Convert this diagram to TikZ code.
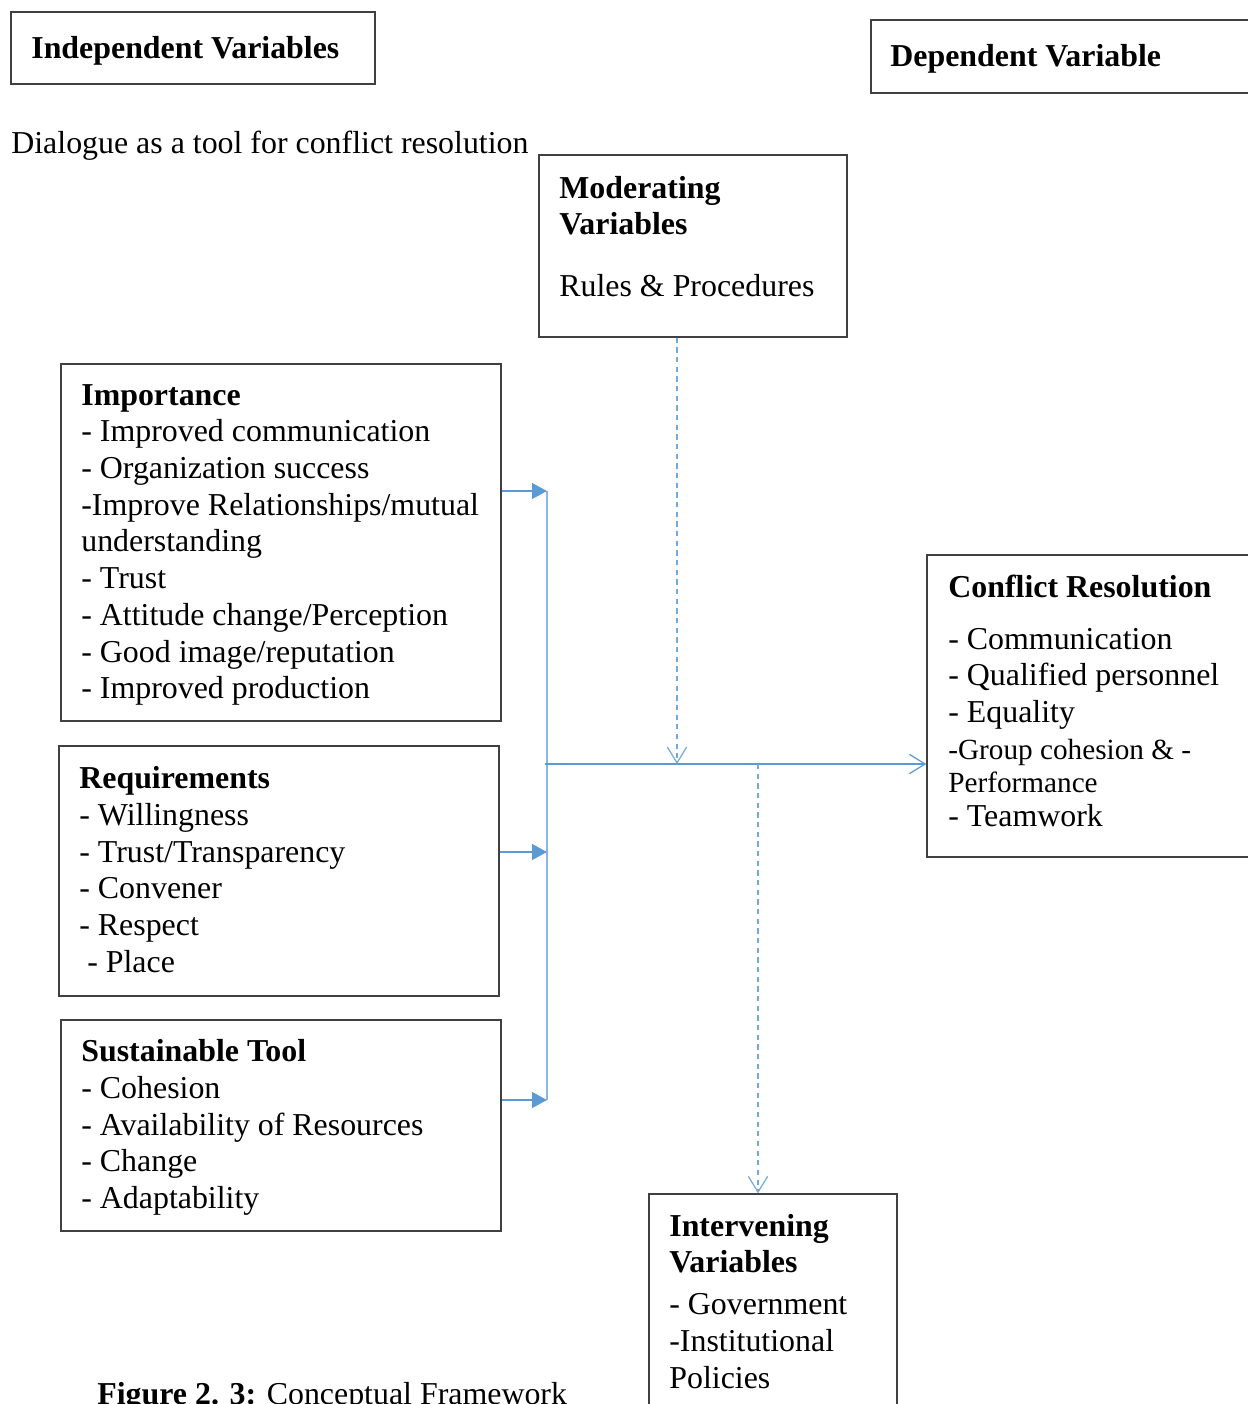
\documentclass[tikz,border=0pt]{standalone}
\usepackage{fontspec}
\setmainfont{Liberation Serif}
\usetikzlibrary{arrows.meta}
\definecolor{linkblue}{HTML}{5B9BD5}
\definecolor{barblue}{HTML}{8DB4E2}
\begin{document}
\begin{tikzpicture}[x=0.02cm, y=-0.02cm]
    % Define styles
    \tikzset{
        varbox/.style={draw=black!75, line width=0.8pt, inner sep=0pt},
        boxtext/.style={anchor=north west, inner sep=0pt, align=left, font=\fontsize{18.15}{20.9}\selectfont},
        smalltext/.style={font=\fontsize{16.64}{19.2}\selectfont},
        barline/.style={barblue, line width=1.4pt},
        feed/.style={linkblue, line width=1pt, -{Triangle[length=8.5pt, width=9pt]}},
        mainlink/.style={linkblue, line width=0.7pt, -{Straight Barb[length=9pt, width=11pt]}},
        effect/.style={linkblue!85, line width=0.7pt, dash pattern=on 3pt off 2.5pt, -{Straight Barb[length=9pt, width=11pt]}}
    }

    % Page frame
    \useasboundingbox (0,0) rectangle (1248,1404);
    \clip (0,0) rectangle (1248,1404);

    % Boxes
    \node[varbox, minimum width=7.28cm, minimum height=1.44cm] (indep) at (193,48) {};
    \node[varbox, minimum width=8.58cm, minimum height=1.46cm] (dep) at (1085.5,56.5) {};
    \node[varbox, minimum width=6.16cm, minimum height=3.64cm] (mod) at (693,246) {};
    \node[varbox, minimum width=8.8cm, minimum height=7.14cm] (imp) at (281,542.5) {};
    \node[varbox, minimum width=8.8cm, minimum height=5cm] (req) at (279,871) {};
    \node[varbox, minimum width=8.8cm, minimum height=4.22cm] (sus) at (281,1125.5) {};
    \node[varbox, minimum width=7.46cm, minimum height=6.04cm] (conf) at (1113.5,706) {};
    \node[varbox, minimum width=4.96cm, minimum height=5.12cm] (inter) at (773,1322) {};

    % Texts
    \node[boxtext] (indeptext) at (31,32.5) {\strut\textbf{Independent Variables}};
    \node[boxtext] (deptext) at (890,40.5) {\strut\textbf{Dependent Variable}};
    \node[boxtext] (topic) at (11,127) {\strut Dialogue as a tool for conflict resolution};
    \node[boxtext] (modtext) at (559,172) {\strut\textbf{Moderating}\\
        \textbf{Variables}\\[14.4pt]
        Rules \& Procedures};
    \node[boxtext] (imptext) at (81,379) {\strut\textbf{Importance}\\
        - Improved communication\\
        - Organization success\\
        -Improve Relationships/mutual\\
        understanding\\
        - Trust\\
        - Attitude change/Perception\\
        - Good image/reputation\\
        - Improved production};
    \node[boxtext] (reqtext) at (79,762.5) {\strut\textbf{Requirements}\\
        - Willingness\\
        - Trust/Transparency\\
        - Convener\\
        - Respect\\
        \hspace*{4.5pt}- Place};
    \node[boxtext] (sustext) at (81,1035.5) {\strut\textbf{Sustainable Tool}\\
        - Cohesion\\
        - Availability of Resources\\
        - Change\\
        - Adaptability};
    \node[boxtext] (conftext) at (948,571) {\strut\textbf{Conflict Resolution}\\[8.7pt]
        - Communication\\
        - Qualified personnel\\
        - Equality\\
        {\fontsize{16.64}{19.2}\selectfont -Group cohesion \& -}\\[-1.8pt]
        {\fontsize{16.64}{19.2}\selectfont Performance}\\[-1.8pt]
        - Teamwork};
    \node[boxtext] (intertext) at (669,1210) {\strut\textbf{Intervening}\\
        \textbf{Variables}\\[3pt]
        - Government\\
        -Institutional\\
        Policies};
    \node[boxtext] (caption) at (97,1378.3) {\strut\textbf{Figure 2. 3:} Conceptual Framework};

    % Junction points
    \coordinate (bartop) at (547,491);
    \coordinate (barmid) at (547,852);
    \coordinate (barbot) at (547,1100);
    \coordinate (hub) at (545,764);
    \coordinate (modin) at (677,764);
    \coordinate (interout) at (758,764);

    % Connectors
    \draw[barline] (bartop) -- (barbot);
    \draw[feed] (imp.east |- bartop) -- (bartop);
    \draw[feed] (req.east |- barmid) -- (barmid);
    \draw[feed] (sus.east |- barbot) -- (barbot);
    \draw[mainlink] (hub) -- (conf.west |- hub);
    \draw[effect] (mod.south -| modin) -- (modin);
    \draw[effect] (interout) -- (interout |- inter.north);

\end{tikzpicture}
\end{document}
